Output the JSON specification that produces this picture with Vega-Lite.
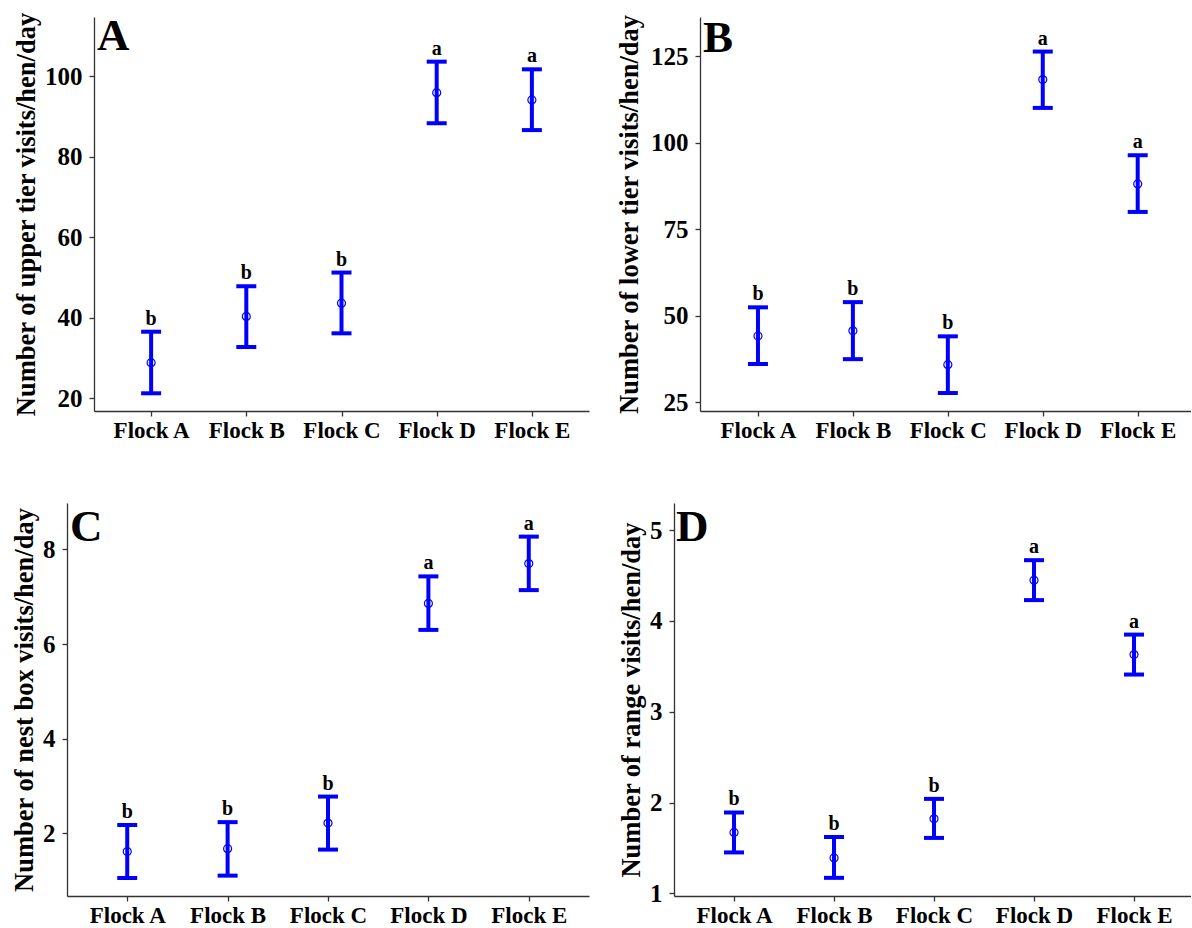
{
  "$schema": "https://vega.github.io/schema/vega-lite/v6.json",
  "background": "white",
  "padding": {"left": 11, "top": 11, "right": 0, "bottom": 0},
  "config": {
    "font": "Liberation Serif",
    "view": {"stroke": null},
    "axis": {
      "labelFont": "Liberation Serif", "labelFontWeight": "bold", "labelColor": "black",
      "titleFont": "Liberation Serif", "titleFontSize": 26.5, "titleFontWeight": "bold", "titleColor": "black",
      "domainColor": "#333333", "tickColor": "#333333", "domainWidth": 1.3, "tickWidth": 1.3, "tickSize": 5, "grid": false
    },
    "axisX": {"labelPadding": 3, "labelAngle": 0, "labelFontSize": 23},
    "axisY": {"labelPadding": 7, "labelFontSize": 25},
    "title": {"font": "Liberation Serif", "fontSize": 45, "fontWeight": "bold", "color": "black", "anchor": "start", "frame": "group", "baseline": "alphabetic", "offset": -47}
  },
  "datasets": {
    "d": [
      {"panel": "A", "flock": "Flock A", "mean": 28.8, "lower": 21.2, "upper": 36.5, "letter": "b"},
      {"panel": "A", "flock": "Flock B", "mean": 40.3, "lower": 32.7, "upper": 47.8, "letter": "b"},
      {"panel": "A", "flock": "Flock C", "mean": 43.6, "lower": 36.1, "upper": 51.2, "letter": "b"},
      {"panel": "A", "flock": "Flock D", "mean": 95.9, "lower": 88.3, "upper": 103.6, "letter": "a"},
      {"panel": "A", "flock": "Flock E", "mean": 94.1, "lower": 86.6, "upper": 101.7, "letter": "a"},
      {"panel": "B", "flock": "Flock A", "mean": 44.1, "lower": 36.0, "upper": 52.4, "letter": "b"},
      {"panel": "B", "flock": "Flock B", "mean": 45.6, "lower": 37.4, "upper": 53.9, "letter": "b"},
      {"panel": "B", "flock": "Flock C", "mean": 35.8, "lower": 27.6, "upper": 44.0, "letter": "b"},
      {"panel": "B", "flock": "Flock D", "mean": 118.3, "lower": 110.1, "upper": 126.4, "letter": "a"},
      {"panel": "B", "flock": "Flock E", "mean": 88.1, "lower": 80.0, "upper": 96.4, "letter": "a"},
      {"panel": "C", "flock": "Flock A", "mean": 1.62, "lower": 1.06, "upper": 2.18, "letter": "b"},
      {"panel": "C", "flock": "Flock B", "mean": 1.68, "lower": 1.11, "upper": 2.24, "letter": "b"},
      {"panel": "C", "flock": "Flock C", "mean": 2.22, "lower": 1.66, "upper": 2.78, "letter": "b"},
      {"panel": "C", "flock": "Flock D", "mean": 6.86, "lower": 6.30, "upper": 7.43, "letter": "a"},
      {"panel": "C", "flock": "Flock E", "mean": 7.70, "lower": 7.14, "upper": 8.27, "letter": "a"},
      {"panel": "D", "flock": "Flock A", "mean": 1.67, "lower": 1.45, "upper": 1.89, "letter": "b"},
      {"panel": "D", "flock": "Flock B", "mean": 1.39, "lower": 1.17, "upper": 1.62, "letter": "b"},
      {"panel": "D", "flock": "Flock C", "mean": 1.82, "lower": 1.61, "upper": 2.04, "letter": "b"},
      {"panel": "D", "flock": "Flock D", "mean": 4.45, "lower": 4.23, "upper": 4.67, "letter": "a"},
      {"panel": "D", "flock": "Flock E", "mean": 3.63, "lower": 3.41, "upper": 3.85, "letter": "a"}
    ]
  },
  "columns": 2,
  "bounds": "flush",
  "spacing": {"row": 92, "column": 85},
  "concat": [
    {
      "width": 522, "height": 394,
      "data": {"name": "d"},
      "transform": [{"filter": "datum.panel === 'A'"}],
      "title": {"text": "A", "dx": 30},
      "encoding": {"x": {"field": "flock", "type": "nominal", "scale": {"type": "point", "padding": 0.6, "range": [27, 522]}, "axis": {"title": null}}},
      "layer": [
        {"mark": {"type": "rule", "color": "#0000FF", "strokeWidth": 4}, "encoding": {"y": {"field": "lower", "type": "quantitative", "title": "Number of upper tier visits/hen/day", "scale": {"domain": [16.8, 114.7], "nice": false, "zero": false}, "axis": {"values": [20, 40, 60, 80, 100], "titlePadding": 4, "offset": -27}}, "y2": {"field": "upper"}}},
        {"mark": {"type": "tick", "orient": "horizontal", "color": "#0000FF", "size": 20, "thickness": 4, "opacity": 1}, "encoding": {"y": {"field": "upper", "type": "quantitative", "title": "Number of upper tier visits/hen/day"}}},
        {"mark": {"type": "tick", "orient": "horizontal", "color": "#0000FF", "size": 20, "thickness": 4, "opacity": 1}, "encoding": {"y": {"field": "lower", "type": "quantitative", "title": "Number of upper tier visits/hen/day"}}},
        {"mark": {"type": "point", "shape": "circle", "filled": false, "color": "#0000FF", "size": 64, "strokeWidth": 1.2, "opacity": 1}, "encoding": {"y": {"field": "mean", "type": "quantitative", "title": "Number of upper tier visits/hen/day"}}},
        {"mark": {"type": "text", "baseline": "alphabetic", "dy": -7, "fontSize": 20, "fontWeight": "bold", "color": "black"}, "encoding": {"y": {"field": "upper", "type": "quantitative", "title": "Number of upper tier visits/hen/day"}, "text": {"field": "letter"}}}
      ]
    },
    {
      "width": 517, "height": 394,
      "data": {"name": "d"},
      "transform": [{"filter": "datum.panel === 'B'"}],
      "title": {"text": "B", "dx": 29},
      "encoding": {"x": {"field": "flock", "type": "nominal", "scale": {"type": "point", "padding": 0.586, "align": 0.521, "range": [26, 517]}, "axis": {"title": null}}},
      "layer": [
        {"mark": {"type": "rule", "color": "#0000FF", "strokeWidth": 4}, "encoding": {"y": {"field": "lower", "type": "quantitative", "title": "Number of lower tier visits/hen/day", "scale": {"domain": [22.4, 136.4], "nice": false, "zero": false}, "axis": {"values": [25, 50, 75, 100, 125], "titlePadding": 7, "offset": -26}}, "y2": {"field": "upper"}}},
        {"mark": {"type": "tick", "orient": "horizontal", "color": "#0000FF", "size": 20, "thickness": 4, "opacity": 1}, "encoding": {"y": {"field": "upper", "type": "quantitative", "title": "Number of lower tier visits/hen/day"}}},
        {"mark": {"type": "tick", "orient": "horizontal", "color": "#0000FF", "size": 20, "thickness": 4, "opacity": 1}, "encoding": {"y": {"field": "lower", "type": "quantitative", "title": "Number of lower tier visits/hen/day"}}},
        {"mark": {"type": "point", "shape": "circle", "filled": false, "color": "#0000FF", "size": 64, "strokeWidth": 1.2, "opacity": 1}, "encoding": {"y": {"field": "mean", "type": "quantitative", "title": "Number of lower tier visits/hen/day"}}},
        {"mark": {"type": "text", "baseline": "alphabetic", "dy": -7, "fontSize": 20, "fontWeight": "bold", "color": "black"}, "encoding": {"y": {"field": "upper", "type": "quantitative", "title": "Number of lower tier visits/hen/day"}, "text": {"field": "letter"}}}
      ]
    },
    {
      "width": 522, "height": 393,
      "data": {"name": "d"},
      "transform": [{"filter": "datum.panel === 'C'"}],
      "title": {"text": "C", "dx": 3},
      "encoding": {"x": {"field": "flock", "type": "nominal", "scale": {"type": "point", "padding": 0.6}, "axis": {"title": null}}},
      "layer": [
        {"mark": {"type": "rule", "color": "#0000FF", "strokeWidth": 4}, "encoding": {"y": {"field": "lower", "type": "quantitative", "title": "Number of nest box visits/hen/day", "scale": {"domain": [0.68, 8.98], "nice": false, "zero": false}, "axis": {"values": [2, 4, 6, 8], "titlePadding": 4}}, "y2": {"field": "upper"}}},
        {"mark": {"type": "tick", "orient": "horizontal", "color": "#0000FF", "size": 20, "thickness": 4, "opacity": 1}, "encoding": {"y": {"field": "upper", "type": "quantitative", "title": "Number of nest box visits/hen/day"}}},
        {"mark": {"type": "tick", "orient": "horizontal", "color": "#0000FF", "size": 20, "thickness": 4, "opacity": 1}, "encoding": {"y": {"field": "lower", "type": "quantitative", "title": "Number of nest box visits/hen/day"}}},
        {"mark": {"type": "point", "shape": "circle", "filled": false, "color": "#0000FF", "size": 64, "strokeWidth": 1.2, "opacity": 1}, "encoding": {"y": {"field": "mean", "type": "quantitative", "title": "Number of nest box visits/hen/day"}}},
        {"mark": {"type": "text", "baseline": "alphabetic", "dy": -7, "fontSize": 20, "fontWeight": "bold", "color": "black"}, "encoding": {"y": {"field": "upper", "type": "quantitative", "title": "Number of nest box visits/hen/day"}, "text": {"field": "letter"}}}
      ]
    },
    {
      "width": 517, "height": 393,
      "data": {"name": "d"},
      "transform": [{"filter": "datum.panel === 'D'"}],
      "title": {"text": "D", "dx": 2},
      "encoding": {"x": {"field": "flock", "type": "nominal", "scale": {"type": "point", "padding": 0.585, "align": 0.513}, "axis": {"title": null}}},
      "layer": [
        {"mark": {"type": "rule", "color": "#0000FF", "strokeWidth": 4}, "encoding": {"y": {"field": "lower", "type": "quantitative", "title": "Number of range visits/hen/day", "scale": {"domain": [0.97, 5.3], "nice": false, "zero": false}, "axis": {"values": [1, 2, 3, 4, 5], "format": "d", "titlePadding": 4}}, "y2": {"field": "upper"}}},
        {"mark": {"type": "tick", "orient": "horizontal", "color": "#0000FF", "size": 20, "thickness": 4, "opacity": 1}, "encoding": {"y": {"field": "upper", "type": "quantitative", "title": "Number of range visits/hen/day"}}},
        {"mark": {"type": "tick", "orient": "horizontal", "color": "#0000FF", "size": 20, "thickness": 4, "opacity": 1}, "encoding": {"y": {"field": "lower", "type": "quantitative", "title": "Number of range visits/hen/day"}}},
        {"mark": {"type": "point", "shape": "circle", "filled": false, "color": "#0000FF", "size": 64, "strokeWidth": 1.2, "opacity": 1}, "encoding": {"y": {"field": "mean", "type": "quantitative", "title": "Number of range visits/hen/day"}}},
        {"mark": {"type": "text", "baseline": "alphabetic", "dy": -7, "fontSize": 20, "fontWeight": "bold", "color": "black"}, "encoding": {"y": {"field": "upper", "type": "quantitative", "title": "Number of range visits/hen/day"}, "text": {"field": "letter"}}}
      ]
    }
  ]
}
